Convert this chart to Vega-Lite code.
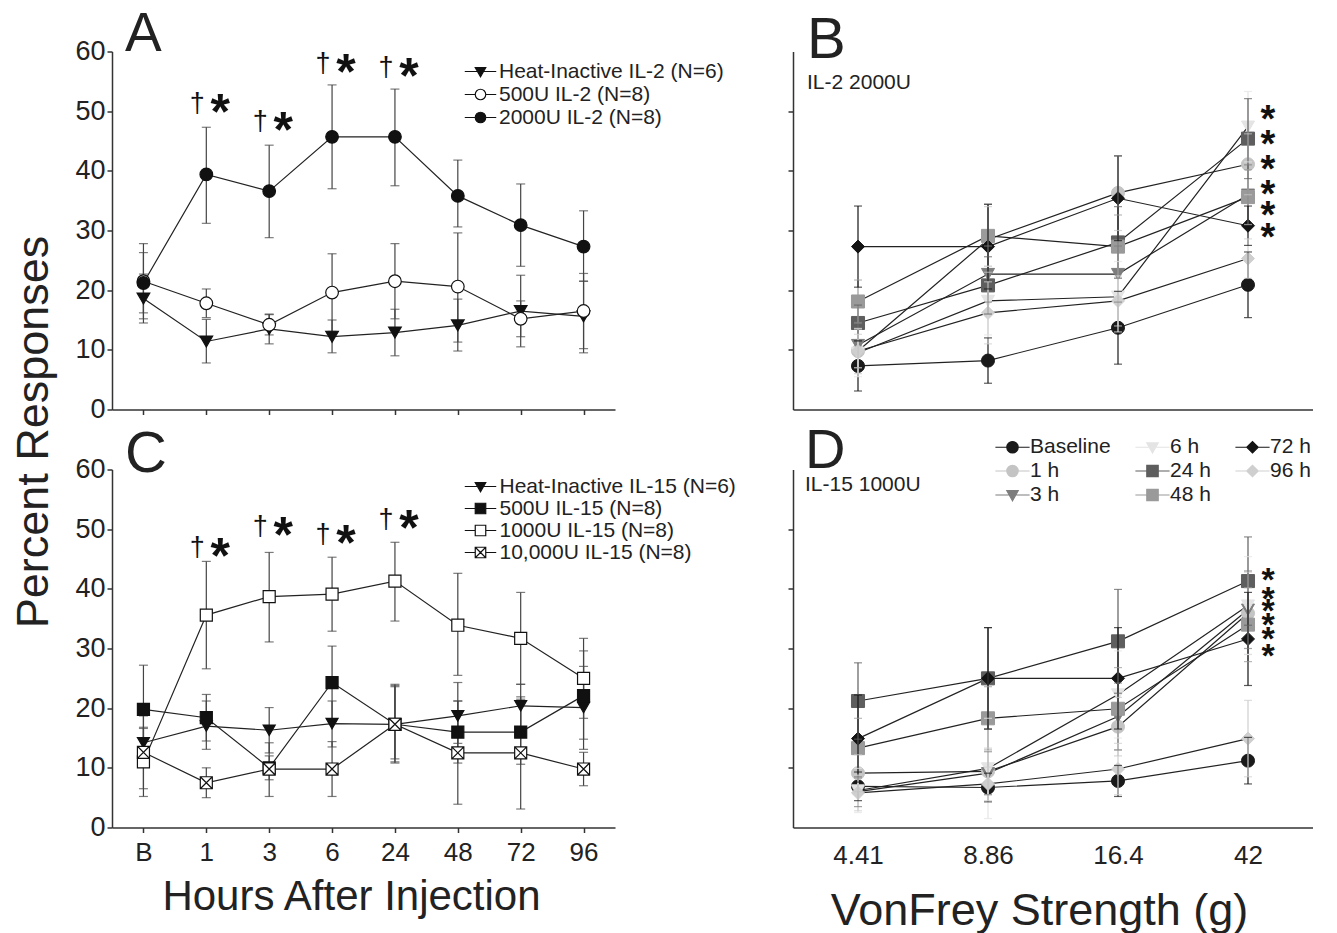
{
  "$schema": "https://vega.github.io/schema/vega-lite/v6.json",
  "background": "white",
  "padding": {"left": 11, "top": 6.5, "right": 0, "bottom": 0},
  "config": {
    "font": "Liberation Sans",
    "view": {"stroke": null},
    "axis": {"grid": false, "domainColor": "#333", "domainWidth": 1.5, "tickColor": "#333", "tickWidth": 1.5, "labelColor": "#222", "labelFont": "Liberation Sans", "titleFont": "Liberation Sans", "titleColor": "#222", "titleFontWeight": "normal"},
    "title": {"font": "Liberation Sans", "fontWeight": "normal", "color": "#222", "anchor": "start", "frame": "group", "offset": 0, "subtitleFont": "Liberation Sans", "subtitleColor": "#222"},
    "legend": {"labelFont": "Liberation Sans", "labelColor": "#222", "labelLimit": 0}
  },
  "datasets": {
    "A": [
      {"x":"B","i":0,"series":"Heat-Inactive IL-2 (N=6)","v":18.6,"lo":14.5,"hi":22.7},
      {"x":"1","i":1,"series":"Heat-Inactive IL-2 (N=6)","v":11.4,"lo":7.8,"hi":15.1},
      {"x":"3","i":2,"series":"Heat-Inactive IL-2 (N=6)","v":13.5,"lo":11.0,"hi":16.0},
      {"x":"6","i":3,"series":"Heat-Inactive IL-2 (N=6)","v":12.2,"lo":9.5,"hi":15.0},
      {"x":"24","i":4,"series":"Heat-Inactive IL-2 (N=6)","v":12.9,"lo":9.0,"hi":16.8},
      {"x":"48","i":5,"series":"Heat-Inactive IL-2 (N=6)","v":14.1,"lo":9.8,"hi":18.5},
      {"x":"72","i":6,"series":"Heat-Inactive IL-2 (N=6)","v":16.5,"lo":10.5,"hi":22.5},
      {"x":"96","i":7,"series":"Heat-Inactive IL-2 (N=6)","v":15.6,"lo":9.5,"hi":21.5},
      {"x":"B","i":0,"series":"500U IL-2 (N=8)","v":21.5,"lo":15.2,"hi":27.8},
      {"x":"1","i":1,"series":"500U IL-2 (N=8)","v":17.8,"lo":15.4,"hi":20.2},
      {"x":"3","i":2,"series":"500U IL-2 (N=8)","v":14.2,"lo":12.5,"hi":15.9},
      {"x":"6","i":3,"series":"500U IL-2 (N=8)","v":19.6,"lo":13.1,"hi":26.1},
      {"x":"24","i":4,"series":"500U IL-2 (N=8)","v":21.5,"lo":15.2,"hi":27.8},
      {"x":"48","i":5,"series":"500U IL-2 (N=8)","v":20.6,"lo":11.3,"hi":29.6},
      {"x":"72","i":6,"series":"500U IL-2 (N=8)","v":15.2,"lo":12.2,"hi":18.2},
      {"x":"96","i":7,"series":"500U IL-2 (N=8)","v":16.5,"lo":10.2,"hi":22.8},
      {"x":"B","i":0,"series":"2000U IL-2 (N=8)","v":21.2,"lo":16.2,"hi":26.3},
      {"x":"1","i":1,"series":"2000U IL-2 (N=8)","v":39.4,"lo":31.2,"hi":47.3},
      {"x":"3","i":2,"series":"2000U IL-2 (N=8)","v":36.6,"lo":28.8,"hi":44.3},
      {"x":"6","i":3,"series":"2000U IL-2 (N=8)","v":45.7,"lo":37.0,"hi":54.4},
      {"x":"24","i":4,"series":"2000U IL-2 (N=8)","v":45.7,"lo":37.5,"hi":53.7},
      {"x":"48","i":5,"series":"2000U IL-2 (N=8)","v":35.8,"lo":30.6,"hi":41.8},
      {"x":"72","i":6,"series":"2000U IL-2 (N=8)","v":30.9,"lo":24.0,"hi":37.8},
      {"x":"96","i":7,"series":"2000U IL-2 (N=8)","v":27.3,"lo":21.5,"hi":33.3}
    ],
    "Aann": [{"x":"1","y":51.0},{"x":"3","y":48.0},{"x":"6","y":57.7},{"x":"24","y":57.1}],
    "C": [
      {"x":"B","i":0,"series":"Heat-Inactive IL-15 (N=6)","v":14.2,"lo":11.8,"hi":16.6},
      {"x":"1","i":1,"series":"Heat-Inactive IL-15 (N=6)","v":17.0,"lo":13.1,"hi":21.2},
      {"x":"3","i":2,"series":"Heat-Inactive IL-15 (N=6)","v":16.3,"lo":12.5,"hi":20.1},
      {"x":"6","i":3,"series":"Heat-Inactive IL-15 (N=6)","v":17.4,"lo":13.5,"hi":21.2},
      {"x":"24","i":4,"series":"Heat-Inactive IL-15 (N=6)","v":17.3,"lo":11.0,"hi":23.6},
      {"x":"48","i":5,"series":"Heat-Inactive IL-15 (N=6)","v":18.7,"lo":14.1,"hi":24.3},
      {"x":"72","i":6,"series":"Heat-Inactive IL-15 (N=6)","v":20.4,"lo":16.8,"hi":24.0},
      {"x":"96","i":7,"series":"Heat-Inactive IL-15 (N=6)","v":20.1,"lo":13.1,"hi":27.0},
      {"x":"B","i":0,"series":"500U IL-15 (N=8)","v":19.8,"lo":12.4,"hi":27.2},
      {"x":"1","i":1,"series":"500U IL-15 (N=8)","v":18.4,"lo":14.5,"hi":22.3},
      {"x":"3","i":2,"series":"500U IL-15 (N=8)","v":10.0,"lo":8.0,"hi":12.0},
      {"x":"6","i":3,"series":"500U IL-15 (N=8)","v":24.3,"lo":18.2,"hi":30.4},
      {"x":"24","i":4,"series":"500U IL-15 (N=8)","v":17.3,"lo":11.5,"hi":24.0},
      {"x":"48","i":5,"series":"500U IL-15 (N=8)","v":16.0,"lo":10.8,"hi":21.2},
      {"x":"72","i":6,"series":"500U IL-15 (N=8)","v":16.0,"lo":10.6,"hi":21.5},
      {"x":"96","i":7,"series":"500U IL-15 (N=8)","v":22.1,"lo":14.8,"hi":29.6},
      {"x":"B","i":0,"series":"1000U IL-15 (N=8)","v":11.0,"lo":5.2,"hi":16.8},
      {"x":"1","i":1,"series":"1000U IL-15 (N=8)","v":35.6,"lo":26.6,"hi":44.6},
      {"x":"3","i":2,"series":"1000U IL-15 (N=8)","v":38.7,"lo":31.1,"hi":46.1},
      {"x":"6","i":3,"series":"1000U IL-15 (N=8)","v":39.1,"lo":32.9,"hi":45.3},
      {"x":"24","i":4,"series":"1000U IL-15 (N=8)","v":41.3,"lo":34.6,"hi":47.8},
      {"x":"48","i":5,"series":"1000U IL-15 (N=8)","v":33.9,"lo":25.5,"hi":42.6},
      {"x":"72","i":6,"series":"1000U IL-15 (N=8)","v":31.7,"lo":24.0,"hi":39.4},
      {"x":"96","i":7,"series":"1000U IL-15 (N=8)","v":25.0,"lo":18.3,"hi":31.7},
      {"x":"B","i":0,"series":"10,000U IL-15 (N=8)","v":12.6,"lo":6.5,"hi":18.7},
      {"x":"1","i":1,"series":"10,000U IL-15 (N=8)","v":7.5,"lo":5.0,"hi":10.0},
      {"x":"3","i":2,"series":"10,000U IL-15 (N=8)","v":9.8,"lo":5.2,"hi":14.2},
      {"x":"6","i":3,"series":"10,000U IL-15 (N=8)","v":9.8,"lo":5.2,"hi":14.4},
      {"x":"24","i":4,"series":"10,000U IL-15 (N=8)","v":17.3,"lo":10.8,"hi":23.8},
      {"x":"48","i":5,"series":"10,000U IL-15 (N=8)","v":12.5,"lo":3.9,"hi":21.2},
      {"x":"72","i":6,"series":"10,000U IL-15 (N=8)","v":12.5,"lo":3.1,"hi":21.9},
      {"x":"96","i":7,"series":"10,000U IL-15 (N=8)","v":9.8,"lo":7.0,"hi":12.6}
    ],
    "Cann": [{"x":"1","y":46.6},{"x":"3","y":50.2},{"x":"6","y":48.9},{"x":"24","y":51.3}],
    "B": [
      {"x":"4.41","i":0,"series":"Baseline","v":7.3,"lo":3.1,"hi":11.5},
      {"x":"8.86","i":1,"series":"Baseline","v":8.2,"lo":4.4,"hi":12.0},
      {"x":"16.4","i":2,"series":"Baseline","v":13.7,"lo":7.6,"hi":19.8},
      {"x":"42","i":3,"series":"Baseline","v":20.9,"lo":15.4,"hi":26.4},
      {"x":"4.41","i":0,"series":"1 h","v":9.8,"lo":6.0,"hi":13.6},
      {"x":"8.86","i":1,"series":"1 h","v":28.5,"lo":23.0,"hi":34.0},
      {"x":"16.4","i":2,"series":"1 h","v":36.3,"lo":30.0,"hi":42.5},
      {"x":"42","i":3,"series":"1 h","v":41.1,"lo":36.0,"hi":46.2},
      {"x":"4.41","i":0,"series":"3 h","v":10.8,"lo":7.0,"hi":14.6},
      {"x":"8.86","i":1,"series":"3 h","v":22.7,"lo":18.0,"hi":27.4},
      {"x":"16.4","i":2,"series":"3 h","v":22.7,"lo":18.0,"hi":27.4},
      {"x":"42","i":3,"series":"3 h","v":36.0,"lo":31.0,"hi":41.0},
      {"x":"4.41","i":0,"series":"6 h","v":9.5,"lo":5.5,"hi":13.5},
      {"x":"8.86","i":1,"series":"6 h","v":18.2,"lo":12.5,"hi":24.0},
      {"x":"16.4","i":2,"series":"6 h","v":18.9,"lo":13.0,"hi":24.8},
      {"x":"42","i":3,"series":"6 h","v":47.4,"lo":41.5,"hi":53.3},
      {"x":"4.41","i":0,"series":"24 h","v":14.5,"lo":11.5,"hi":17.5},
      {"x":"8.86","i":1,"series":"24 h","v":20.8,"lo":16.0,"hi":25.6},
      {"x":"16.4","i":2,"series":"24 h","v":28.0,"lo":22.0,"hi":34.0},
      {"x":"42","i":3,"series":"24 h","v":45.4,"lo":38.7,"hi":52.1},
      {"x":"4.41","i":0,"series":"48 h","v":18.1,"lo":14.5,"hi":21.7},
      {"x":"8.86","i":1,"series":"48 h","v":29.1,"lo":24.0,"hi":34.4},
      {"x":"16.4","i":2,"series":"48 h","v":27.3,"lo":22.0,"hi":32.6},
      {"x":"42","i":3,"series":"48 h","v":35.6,"lo":31.0,"hi":40.2},
      {"x":"4.41","i":0,"series":"72 h","v":27.3,"lo":20.5,"hi":34.1},
      {"x":"8.86","i":1,"series":"72 h","v":27.3,"lo":20.2,"hi":34.4},
      {"x":"16.4","i":2,"series":"72 h","v":35.4,"lo":28.3,"hi":42.5},
      {"x":"42","i":3,"series":"72 h","v":30.8,"lo":27.5,"hi":34.1},
      {"x":"4.41","i":0,"series":"96 h","v":9.8,"lo":7.0,"hi":12.6},
      {"x":"8.86","i":1,"series":"96 h","v":16.2,"lo":11.0,"hi":21.4},
      {"x":"16.4","i":2,"series":"96 h","v":18.2,"lo":14.0,"hi":22.4},
      {"x":"42","i":3,"series":"96 h","v":25.3,"lo":22.0,"hi":28.6}
    ],
    "Bann": [{"x":"42","y":49.5},{"x":"42","y":45.4},{"x":"42","y":41.1},{"x":"42","y":37.0},{"x":"42","y":33.5},{"x":"42","y":29.7}],
    "D": [
      {"x":"4.41","i":0,"series":"Baseline","v":6.9,"lo":4.5,"hi":9.3},
      {"x":"8.86","i":1,"series":"Baseline","v":6.7,"lo":4.3,"hi":9.1},
      {"x":"16.4","i":2,"series":"Baseline","v":7.8,"lo":5.2,"hi":10.4},
      {"x":"42","i":3,"series":"Baseline","v":11.2,"lo":7.3,"hi":15.1},
      {"x":"4.41","i":0,"series":"1 h","v":9.1,"lo":6.0,"hi":12.2},
      {"x":"8.86","i":1,"series":"1 h","v":9.4,"lo":5.5,"hi":13.3},
      {"x":"16.4","i":2,"series":"1 h","v":16.9,"lo":12.0,"hi":21.8},
      {"x":"42","i":3,"series":"1 h","v":35.9,"lo":29.0,"hi":42.8},
      {"x":"4.41","i":0,"series":"3 h","v":6.0,"lo":3.5,"hi":8.5},
      {"x":"8.86","i":1,"series":"3 h","v":9.1,"lo":5.5,"hi":12.7},
      {"x":"16.4","i":2,"series":"3 h","v":18.6,"lo":13.0,"hi":24.2},
      {"x":"42","i":3,"series":"3 h","v":36.5,"lo":30.0,"hi":43.0},
      {"x":"4.41","i":0,"series":"6 h","v":6.2,"lo":2.5,"hi":9.9},
      {"x":"8.86","i":1,"series":"6 h","v":9.9,"lo":1.5,"hi":18.3},
      {"x":"16.4","i":2,"series":"6 h","v":22.3,"lo":15.0,"hi":29.6},
      {"x":"42","i":3,"series":"6 h","v":37.2,"lo":29.0,"hi":45.4},
      {"x":"4.41","i":0,"series":"24 h","v":21.2,"lo":14.8,"hi":27.6},
      {"x":"8.86","i":1,"series":"24 h","v":25.0,"lo":16.5,"hi":33.5},
      {"x":"16.4","i":2,"series":"24 h","v":31.2,"lo":22.5,"hi":39.9},
      {"x":"42","i":3,"series":"24 h","v":41.3,"lo":33.9,"hi":48.7},
      {"x":"4.41","i":0,"series":"48 h","v":13.3,"lo":8.3,"hi":18.3},
      {"x":"8.86","i":1,"series":"48 h","v":18.3,"lo":13.0,"hi":23.6},
      {"x":"16.4","i":2,"series":"48 h","v":19.9,"lo":13.0,"hi":26.8},
      {"x":"42","i":3,"series":"48 h","v":34.0,"lo":27.8,"hi":40.2},
      {"x":"4.41","i":0,"series":"72 h","v":14.9,"lo":7.6,"hi":22.2},
      {"x":"8.86","i":1,"series":"72 h","v":25.0,"lo":16.5,"hi":33.5},
      {"x":"16.4","i":2,"series":"72 h","v":25.0,"lo":16.5,"hi":33.5},
      {"x":"42","i":3,"series":"72 h","v":31.6,"lo":23.8,"hi":39.4},
      {"x":"4.41","i":0,"series":"96 h","v":5.8,"lo":2.8,"hi":8.8},
      {"x":"8.86","i":1,"series":"96 h","v":7.3,"lo":4.5,"hi":10.1},
      {"x":"16.4","i":2,"series":"96 h","v":9.8,"lo":5.5,"hi":14.1},
      {"x":"42","i":3,"series":"96 h","v":14.9,"lo":8.5,"hi":21.3}
    ],
    "Dann": [{"x":"42","y":42.4},{"x":"42","y":39.2},{"x":"42","y":37.2},{"x":"42","y":34.8},{"x":"42","y":32.5},{"x":"42","y":29.6}]
  },
  "columns": 2,
  "spacing": {"row": 60, "column": 178},
  "bounds": "flush",
  "resolve": {
    "scale": {"x": "independent", "y": "independent", "color": "independent", "fill": "independent", "shape": "independent", "size": "independent"},
    "axis": {"x": "independent", "y": "independent"},
    "legend": {"color": "independent", "fill": "independent", "shape": "independent", "size": "independent"}
  },
  "concat": [
    {
      "width": 503, "height": 358,
      "title": {"text": "A", "fontSize": 55, "dx": 13, "dy": 29.4},
      "data": {"name": "A"},
      "encoding": {
        "x": {"field": "x", "type": "ordinal", "scale": {"type": "point", "padding": 0.5, "domain": ["B","1","3","6","24","48","72","96"]}, "axis": {"labels": false, "ticks": true, "tickSize": 5, "title": null}},
        "y": {"field": "v", "type": "quantitative", "scale": {"domain": [0, 60], "nice": false}, "title": "Percent Responses",
              "axis": {"values": [0,10,20,30,40,50,60], "labelFontSize": 27, "labelPadding": 2, "tickSize": 5, "titleFontSize": 45, "titleX": -65, "titleY": 380, "titleAngle": -90, "titleAlign": "center", "titleBaseline": "alphabetic"}}
      },
      "resolve": {"scale": {"shape": "independent", "fill": "independent"}, "legend": {"shape": "independent", "fill": "independent"}},
      "layer": [
        {"mark": {"type": "rule", "color": "#444", "strokeWidth": 1.2}, "encoding": {"y": {"field": "lo", "type": "quantitative", "title": "Percent Responses"}, "y2": {"field": "hi"}}},
        {"mark": {"type": "tick", "orient": "horizontal", "size": 9, "thickness": 1.2, "color": "#444"}, "encoding": {"y": {"field": "lo", "type": "quantitative", "title": "Percent Responses"}}},
        {"mark": {"type": "tick", "orient": "horizontal", "size": 9, "thickness": 1.2, "color": "#444"}, "encoding": {"y": {"field": "hi", "type": "quantitative", "title": "Percent Responses"}}},
        {"mark": {"type": "line", "color": "#222", "strokeWidth": 1.2}, "encoding": {"detail": {"field": "series"}, "order": {"field": "i", "type": "quantitative"}}},
        {"mark": {"type": "point", "filled": true, "opacity": 1, "size": 160, "stroke": "#111", "strokeWidth": 1.2},
         "encoding": {
           "shape": {"field": "series", "type": "nominal", "scale": {"domain": ["Heat-Inactive IL-2 (N=6)","500U IL-2 (N=8)","2000U IL-2 (N=8)"], "range": ["triangle-down","circle","circle"]}, "legend": null},
           "fill": {"field": "series", "type": "nominal", "scale": {"domain": ["Heat-Inactive IL-2 (N=6)","500U IL-2 (N=8)","2000U IL-2 (N=8)"], "range": ["#111","#ffffff","#111"]}, "legend": null}
         }},
        {"transform": [{"filter": "datum.v < 0"}],
         "mark": {"type": "point", "filled": true, "opacity": 1, "stroke": "#111", "strokeWidth": 1.2},
         "encoding": {
           "shape": {"field": "series", "type": "nominal", "scale": {"domain": ["Heat-Inactive IL-2 (N=6)","500U IL-2 (N=8)","2000U IL-2 (N=8)"], "range": ["M-3,0H-0.57M0.57,0H3M-1,-0.75L1,-0.75L0,1Z","M-3,0H-1M1,0H3M-1,0A1,1,0,1,0,1,0A1,1,0,1,0,-1,0Z","M-3,0H-1M1,0H3M-1,0A1,1,0,1,0,1,0A1,1,0,1,0,-1,0Z"]},
             "legend": {"orient": "none", "legendX": 358, "legendY": 9.5, "title": null, "labelFontSize": 21, "symbolSize": 110, "labelOffset": 8, "rowPadding": 1, "symbolStrokeWidth": 1.2, "encode": {"symbols": {"update": {"stroke": {"value": "#111"}, "strokeWidth": {"value": 1.2}}}}}},
           "fill": {"field": "series", "type": "nominal", "scale": {"domain": ["Heat-Inactive IL-2 (N=6)","500U IL-2 (N=8)","2000U IL-2 (N=8)"], "range": ["#111","#ffffff","#111"]},
             "legend": {"orient": "none", "legendX": 358, "legendY": 9.5, "title": null, "labelFontSize": 21, "symbolSize": 110, "labelOffset": 8, "rowPadding": 1, "symbolStrokeWidth": 1.2, "encode": {"symbols": {"update": {"stroke": {"value": "#111"}, "strokeWidth": {"value": 1.2}}}}}}
         }},
        {"data": {"name": "Aann"}, "mark": {"type": "text", "text": "†", "fontSize": 27, "dx": -9, "dy": 7, "baseline": "alphabetic", "color": "#111"}, "encoding": {"y": {"field": "y", "type": "quantitative", "title": "Percent Responses"}}},
        {"data": {"name": "Aann"}, "mark": {"type": "text", "text": "*", "fontSize": 50, "fontWeight": "bold", "dx": 14, "dy": 24, "baseline": "alphabetic", "color": "#111"}, "encoding": {"y": {"field": "y", "type": "quantitative", "title": "Percent Responses"}}}
      ]
    },
    {
      "width": 520, "height": 358,
      "title": {"text": "B", "subtitle": "IL-2 2000U", "fontSize": 58, "subtitleFontSize": 21, "subtitlePadding": 2, "dx": 14, "dy": 45},
      "data": {"name": "B"},
      "encoding": {
        "x": {"field": "x", "type": "ordinal", "scale": {"type": "point", "padding": 0.5, "domain": ["4.41","8.86","16.4","42"]}, "axis": {"labels": false, "ticks": false, "title": null}},
        "y": {"field": "v", "type": "quantitative", "scale": {"domain": [0, 60], "nice": false}, "title": null, "axis": {"values": [10,20,30,40,50], "labels": false, "tickSize": 5, "title": null}}
      },
      "layer": [
        {"mark": {"type": "line", "strokeWidth": 1.2, "color": "#222"}, "encoding": {"detail": {"field": "series"}, "order": {"field": "i", "type": "quantitative"}}},
        {"mark": {"type": "point", "filled": false, "opacity": 1, "strokeWidth": 1},
         "encoding": {
           "color": {"field": "series", "type": "nominal", "scale": {"domain": ["Baseline","1 h","3 h","6 h","24 h","48 h","72 h","96 h"], "range": ["#1a1a1a","#c4c4c4","#7d7d7d","#e4e4e4","#5e5e5e","#9a9a9a","#141414","#cfcfcf"]}, "legend": null},
           "fill": {"field": "series", "type": "nominal", "scale": {"domain": ["Baseline","1 h","3 h","6 h","24 h","48 h","72 h","96 h"], "range": ["#1a1a1a","#c4c4c4","#7d7d7d","#e4e4e4","#5e5e5e","#9a9a9a","#141414","#cfcfcf"]}, "legend": null},
           "shape": {"field": "series", "type": "nominal", "scale": {"domain": ["Baseline","1 h","3 h","6 h","24 h","48 h","72 h","96 h"], "range": ["circle","circle","triangle-down","triangle-down","square","square","diamond","diamond"]}, "legend": null},
           "size": {"field": "series", "type": "nominal", "scale": {"domain": ["Baseline","1 h","3 h","6 h","24 h","48 h","72 h","96 h"], "range": [170,170,230,230,150,150,260,260]}, "legend": null}
         }},
        {"mark": {"type": "rule", "strokeWidth": 1.2}, "encoding": {"y": {"field": "lo", "type": "quantitative", "title": null}, "y2": {"field": "hi"}, "color": {"field": "series", "type": "nominal", "scale": {"domain": ["Baseline","1 h","3 h","6 h","24 h","48 h","72 h","96 h"], "range": ["#1a1a1a","#c4c4c4","#7d7d7d","#e4e4e4","#5e5e5e","#9a9a9a","#141414","#cfcfcf"]}, "legend": null}}},
        {"mark": {"type": "tick", "orient": "horizontal", "size": 8, "thickness": 1.2}, "encoding": {"y": {"field": "lo", "type": "quantitative", "title": null}, "color": {"field": "series", "type": "nominal", "scale": {"domain": ["Baseline","1 h","3 h","6 h","24 h","48 h","72 h","96 h"], "range": ["#1a1a1a","#c4c4c4","#7d7d7d","#e4e4e4","#5e5e5e","#9a9a9a","#141414","#cfcfcf"]}, "legend": null}}},
        {"mark": {"type": "tick", "orient": "horizontal", "size": 8, "thickness": 1.2}, "encoding": {"y": {"field": "hi", "type": "quantitative", "title": null}, "color": {"field": "series", "type": "nominal", "scale": {"domain": ["Baseline","1 h","3 h","6 h","24 h","48 h","72 h","96 h"], "range": ["#1a1a1a","#c4c4c4","#7d7d7d","#e4e4e4","#5e5e5e","#9a9a9a","#141414","#cfcfcf"]}, "legend": null}}},
        {"data": {"name": "Bann"}, "mark": {"type": "text", "text": "*", "fontSize": 38, "fontWeight": "bold", "dx": 20, "dy": 18, "baseline": "alphabetic", "color": "#111"}, "encoding": {"y": {"field": "y", "type": "quantitative", "title": null}}}
      ]
    },
    {
      "width": 503, "height": 358,
      "title": {"text": "C", "fontSize": 58, "dx": 13, "dy": 32},
      "data": {"name": "C"},
      "encoding": {
        "x": {"field": "x", "type": "ordinal", "scale": {"type": "point", "padding": 0.5, "domain": ["B","1","3","6","24","48","72","96"]},
              "axis": {"labelAngle": 0, "labelFontSize": 26, "labelPadding": 7, "ticks": true, "tickSize": 5, "title": "Hours After Injection", "titleFontSize": 42, "titleX": 239, "titleY": 82, "titleAlign": "center", "titleBaseline": "alphabetic"}},
        "y": {"field": "v", "type": "quantitative", "scale": {"domain": [0, 60], "nice": false}, "title": null,
              "axis": {"values": [0,10,20,30,40,50,60], "labelFontSize": 27, "labelPadding": 2, "tickSize": 5, "title": null}}
      },
      "resolve": {"scale": {"shape": "independent", "fill": "independent"}, "legend": {"shape": "independent", "fill": "independent"}},
      "layer": [
        {"mark": {"type": "rule", "color": "#444", "strokeWidth": 1.2}, "encoding": {"y": {"field": "lo", "type": "quantitative", "title": null}, "y2": {"field": "hi"}}},
        {"mark": {"type": "tick", "orient": "horizontal", "size": 9, "thickness": 1.2, "color": "#444"}, "encoding": {"y": {"field": "lo", "type": "quantitative", "title": null}}},
        {"mark": {"type": "tick", "orient": "horizontal", "size": 9, "thickness": 1.2, "color": "#444"}, "encoding": {"y": {"field": "hi", "type": "quantitative", "title": null}}},
        {"mark": {"type": "line", "color": "#222", "strokeWidth": 1.2}, "encoding": {"detail": {"field": "series"}, "order": {"field": "i", "type": "quantitative"}}},
        {"mark": {"type": "point", "filled": true, "opacity": 1, "size": 145, "stroke": "#111", "strokeWidth": 1.2},
         "encoding": {
           "shape": {"field": "series", "type": "nominal", "scale": {"domain": ["Heat-Inactive IL-15 (N=6)","500U IL-15 (N=8)","1000U IL-15 (N=8)","10,000U IL-15 (N=8)"], "range": ["triangle-down","square","square","M-1,-1H1V1H-1ZM-1,-1L1,1M-1,1L1,-1"]}, "legend": null},
           "fill": {"field": "series", "type": "nominal", "scale": {"domain": ["Heat-Inactive IL-15 (N=6)","500U IL-15 (N=8)","1000U IL-15 (N=8)","10,000U IL-15 (N=8)"], "range": ["#111","#111","#ffffff","#ffffff"]}, "legend": null}
         }},
        {"transform": [{"filter": "datum.v < 0"}],
         "mark": {"type": "point", "filled": true, "opacity": 1, "stroke": "#111", "strokeWidth": 1.2},
         "encoding": {
           "shape": {"field": "series", "type": "nominal", "scale": {"domain": ["Heat-Inactive IL-15 (N=6)","500U IL-15 (N=8)","1000U IL-15 (N=8)","10,000U IL-15 (N=8)"], "range": ["M-3,0H-0.57M0.57,0H3M-1,-0.75L1,-0.75L0,1Z","M-3,0H-1M1,0H3M-1,-1H1V1H-1Z","M-3,0H-1M1,0H3M-1,-1H1V1H-1Z","M-3,0H-1M1,0H3M-1,-1H1V1H-1ZM-1,-1L1,1M-1,1L1,-1"]},
             "legend": {"orient": "none", "legendX": 358, "legendY": 6.5, "title": null, "labelFontSize": 21, "symbolSize": 110, "labelOffset": 8.5, "rowPadding": 0, "symbolStrokeWidth": 1.2, "encode": {"symbols": {"update": {"stroke": {"value": "#111"}, "strokeWidth": {"value": 1.2}}}}}},
           "fill": {"field": "series", "type": "nominal", "scale": {"domain": ["Heat-Inactive IL-15 (N=6)","500U IL-15 (N=8)","1000U IL-15 (N=8)","10,000U IL-15 (N=8)"], "range": ["#111","#111","#ffffff","#ffffff"]},
             "legend": {"orient": "none", "legendX": 358, "legendY": 6.5, "title": null, "labelFontSize": 21, "symbolSize": 110, "labelOffset": 8.5, "rowPadding": 0, "symbolStrokeWidth": 1.2, "encode": {"symbols": {"update": {"stroke": {"value": "#111"}, "strokeWidth": {"value": 1.2}}}}}}
         }},
        {"data": {"name": "Cann"}, "mark": {"type": "text", "text": "†", "fontSize": 27, "dx": -9, "dy": 7, "baseline": "alphabetic", "color": "#111"}, "encoding": {"y": {"field": "y", "type": "quantitative", "title": null}}},
        {"data": {"name": "Cann"}, "mark": {"type": "text", "text": "*", "fontSize": 50, "fontWeight": "bold", "dx": 14, "dy": 24, "baseline": "alphabetic", "color": "#111"}, "encoding": {"y": {"field": "y", "type": "quantitative", "title": null}}}
      ]
    },
    {
      "width": 520, "height": 358,
      "title": {"text": "D", "subtitle": "IL-15 1000U", "fontSize": 56, "subtitleFontSize": 21, "subtitlePadding": -6, "dx": 12, "dy": 63.5},
      "data": {"name": "D"},
      "encoding": {
        "x": {"field": "x", "type": "ordinal", "scale": {"type": "point", "padding": 0.5, "domain": ["4.41","8.86","16.4","42"]},
              "axis": {"labelAngle": 0, "labelFontSize": 26, "labelPadding": 15, "ticks": false, "title": "VonFrey Strength (g)", "titleFontSize": 45, "titleX": 246, "titleY": 97, "titleAlign": "center", "titleBaseline": "alphabetic"}},
        "y": {"field": "v", "type": "quantitative", "scale": {"domain": [0, 60], "nice": false}, "title": null, "axis": {"values": [10,20,30,40,50], "labels": false, "tickSize": 5, "title": null}}
      },
      "resolve": {"scale": {"shape": "independent", "fill": "independent", "color": "independent"}, "legend": {"shape": "independent", "fill": "independent", "color": "independent"}},
      "layer": [
        {"mark": {"type": "line", "strokeWidth": 1.2, "color": "#222"}, "encoding": {"detail": {"field": "series"}, "order": {"field": "i", "type": "quantitative"}}},
        {"mark": {"type": "point", "filled": false, "opacity": 1, "strokeWidth": 1},
         "encoding": {
           "color": {"field": "series", "type": "nominal", "scale": {"domain": ["Baseline","1 h","3 h","6 h","24 h","48 h","72 h","96 h"], "range": ["#1a1a1a","#c4c4c4","#7d7d7d","#e4e4e4","#5e5e5e","#9a9a9a","#141414","#cfcfcf"]}, "legend": null},
           "fill": {"field": "series", "type": "nominal", "scale": {"domain": ["Baseline","1 h","3 h","6 h","24 h","48 h","72 h","96 h"], "range": ["#1a1a1a","#c4c4c4","#7d7d7d","#e4e4e4","#5e5e5e","#9a9a9a","#141414","#cfcfcf"]}, "legend": null},
           "shape": {"field": "series", "type": "nominal", "scale": {"domain": ["Baseline","1 h","3 h","6 h","24 h","48 h","72 h","96 h"], "range": ["circle","circle","triangle-down","triangle-down","square","square","diamond","diamond"]}, "legend": null},
           "size": {"field": "series", "type": "nominal", "scale": {"domain": ["Baseline","1 h","3 h","6 h","24 h","48 h","72 h","96 h"], "range": [170,170,230,230,150,150,260,260]}, "legend": null}
         }},
        {"mark": {"type": "rule", "strokeWidth": 1.2}, "encoding": {"y": {"field": "lo", "type": "quantitative", "title": null}, "y2": {"field": "hi"}, "color": {"field": "series", "type": "nominal", "scale": {"domain": ["Baseline","1 h","3 h","6 h","24 h","48 h","72 h","96 h"], "range": ["#1a1a1a","#c4c4c4","#7d7d7d","#e4e4e4","#5e5e5e","#9a9a9a","#141414","#cfcfcf"]}, "legend": null}}},
        {"mark": {"type": "tick", "orient": "horizontal", "size": 8, "thickness": 1.2}, "encoding": {"y": {"field": "lo", "type": "quantitative", "title": null}, "color": {"field": "series", "type": "nominal", "scale": {"domain": ["Baseline","1 h","3 h","6 h","24 h","48 h","72 h","96 h"], "range": ["#1a1a1a","#c4c4c4","#7d7d7d","#e4e4e4","#5e5e5e","#9a9a9a","#141414","#cfcfcf"]}, "legend": null}}},
        {"mark": {"type": "tick", "orient": "horizontal", "size": 8, "thickness": 1.2}, "encoding": {"y": {"field": "hi", "type": "quantitative", "title": null}, "color": {"field": "series", "type": "nominal", "scale": {"domain": ["Baseline","1 h","3 h","6 h","24 h","48 h","72 h","96 h"], "range": ["#1a1a1a","#c4c4c4","#7d7d7d","#e4e4e4","#5e5e5e","#9a9a9a","#141414","#cfcfcf"]}, "legend": null}}},
        {"transform": [{"filter": "datum.v < 0"}],
         "mark": {"type": "point", "filled": false, "opacity": 1, "strokeWidth": 1.2},
         "encoding": {
           "color": {"field": "series", "type": "nominal", "scale": {"domain": ["Baseline","1 h","3 h","6 h","24 h","48 h","72 h","96 h"], "range": ["#1a1a1a","#c4c4c4","#7d7d7d","#e4e4e4","#5e5e5e","#9a9a9a","#141414","#cfcfcf"]},
             "legend": {"orient": "none", "legendX": 209, "legendY": -33, "title": null, "columns": 3, "columnPadding": 21, "rowPadding": 2, "labelFontSize": 21, "symbolSize": 130, "labelOffset": 7, "symbolStrokeWidth": 1.2}},
           "fill": {"field": "series", "type": "nominal", "scale": {"domain": ["Baseline","1 h","3 h","6 h","24 h","48 h","72 h","96 h"], "range": ["#1a1a1a","#c4c4c4","#7d7d7d","#e4e4e4","#5e5e5e","#9a9a9a","#141414","#cfcfcf"]},
             "legend": {"orient": "none", "legendX": 209, "legendY": -33, "title": null, "columns": 3, "columnPadding": 21, "rowPadding": 2, "labelFontSize": 21, "symbolSize": 130, "labelOffset": 7, "symbolStrokeWidth": 1.2}},
           "shape": {"field": "series", "type": "nominal", "scale": {"domain": ["Baseline","1 h","3 h","6 h","24 h","48 h","72 h","96 h"], "range": ["M-3,0H-1M1,0H3M-1,0A1,1,0,1,0,1,0A1,1,0,1,0,-1,0Z","M-3,0H-1M1,0H3M-1,0A1,1,0,1,0,1,0A1,1,0,1,0,-1,0Z","M-3,0H-0.57M0.57,0H3M-1,-0.75L1,-0.75L0,1Z","M-3,0H-0.57M0.57,0H3M-1,-0.75L1,-0.75L0,1Z","M-3,0H-1M1,0H3M-1,-1H1V1H-1Z","M-3,0H-1M1,0H3M-1,-1H1V1H-1Z","M-3,0H-1M1,0H3M-1,0L0,-1L1,0L0,1Z","M-3,0H-1M1,0H3M-1,0L0,-1L1,0L0,1Z"]},
             "legend": {"orient": "none", "legendX": 209, "legendY": -33, "title": null, "columns": 3, "columnPadding": 21, "rowPadding": 2, "labelFontSize": 21, "symbolSize": 130, "labelOffset": 7, "symbolStrokeWidth": 1.2}}
         }},
        {"data": {"name": "Dann"}, "mark": {"type": "text", "text": "*", "fontSize": 34, "fontWeight": "bold", "dx": 20, "dy": 16, "baseline": "alphabetic", "color": "#111"}, "encoding": {"y": {"field": "y", "type": "quantitative", "title": null}}}
      ]
    }
  ]
}
